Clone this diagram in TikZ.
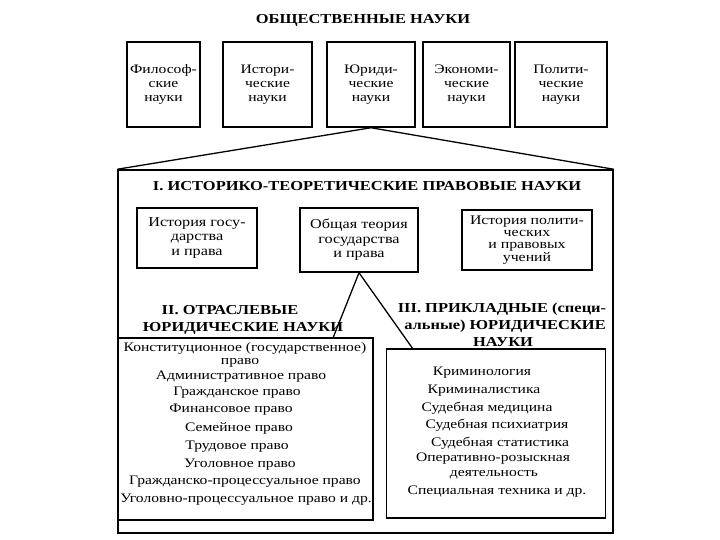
\documentclass[tikz,border=0pt]{standalone}
\usepackage{fontspec}
\setmainfont[FakeStretch=1.2]{Liberation Serif}
\begin{document}
\begin{tikzpicture}[x=1pt,y=-1pt,
  box/.style={draw, line width=1.5pt, inner sep=0pt, align=center},
  ln/.style={line width=1.3pt},
  hd/.style={font=\bfseries\fontsize{13.7}{17}\selectfont, align=center, inner sep=0pt},
  tbox/.style={box, font=\fontsize{13}{14}\selectfont, minimum height=85pt},
  mbox/.style={box, font=\fontsize{13.5}{14.5}\selectfont},
  it/.style={font=\fontsize{13}{15}\selectfont, inner sep=0pt}]
\useasboundingbox (0,0) rectangle (720,540);
% title
\node[hd] (title) at (363,20) {ОБЩЕСТВЕННЫЕ НАУКИ};
% top boxes
\node[tbox, minimum width=73pt] (f) at (163.5,84.5) {Философ-\\ские\\науки};
\node[tbox, minimum width=89pt] (h) at (267.5,84.5) {Истори-\\ческие\\науки};
\node[tbox, minimum width=88pt] (j) at (371,84.5) {Юриди-\\ческие\\науки};
\node[tbox, minimum width=87pt] (e) at (466.5,84.5) {Экономи-\\ческие\\науки};
\node[tbox, minimum width=92pt] (p) at (561,84.5) {Полити-\\ческие\\науки};
% big frame
\node[box, minimum width=495pt, minimum height=363pt] (frame) at (365.5,351.5) {};
\draw[ln] (j.south) -- (frame.north west);
\draw[ln] (j.south) -- (frame.north east);
% heading I
\node[hd] (h1) at (367,186) {I. ИСТОРИКО-ТЕОРЕТИЧЕСКИЕ ПРАВОВЫЕ НАУКИ};
% row 2
\node[mbox, minimum width=120pt, minimum height=60pt] (a) at (197,238) {История госу-\\дарства\\и права};
\node[mbox, minimum width=118pt, minimum height=64pt] (b) at (359,240) {Общая теория\\государства\\и права};
\node[mbox, minimum width=130pt, minimum height=60pt, font=\fontsize{13.2}{12.2}\selectfont] (c) at (527,240) {История полити-\\ческих\\и правовых\\учений};
% headings II, III
\node[hd] (h2a) at (230,310) {II. ОТРАСЛЕВЫЕ};
\node[hd] (h2b) at (243,328) {ЮРИДИЧЕСКИЕ НАУКИ};
\node[hd] (h3a) at (502,309) {III. ПРИКЛАДНЫЕ (специ-};
\node[hd] (h3b) at (505,326) {альные) ЮРИДИЧЕСКИЕ};
\node[hd] (h3c) at (503,342) {НАУКИ};
% lower boxes
\node[box, minimum width=255pt, minimum height=182pt] (L) at (245.5,429) {};
\node[box, minimum width=219pt, minimum height=169pt] (R) at (496,433.5) {};
\coordinate (tl) at (333,338);
\coordinate (tr) at (413,349);
\draw[ln] (b.south) -- (tl);
\draw[ln] (b.south) -- (tr);
% left items
\node[it] (l1) at (245,348) {Конституционное (государственное)};
\node[it] (l2) at (240,363) {право};
\node[it] (l3) at (241,377) {Административное право};
\node[it] (l4) at (237,393) {Гражданское право};
\node[it] (l5) at (231,410) {Финансовое право};
\node[it] (l6) at (239,428) {Семейное право};
\node[it] (l7) at (237,447) {Трудовое право};
\node[it] (l8) at (240,465) {Уголовное право};
\node[it] (l9) at (245,482) {Гражданско-процессуальное право};
\node[it] (l10) at (246,500) {Уголовно-процессуальное право и др.};
% right items
\node[it] (r1) at (482,373) {Криминология};
\node[it] (r2) at (484,391) {Криминалистика};
\node[it] (r3) at (487,408) {Судебная медицина};
\node[it] (r4) at (497,425) {Судебная психиатрия};
\node[it] (r5) at (500,443) {Судебная статистика};
\node[it] (r6) at (493,459) {Оперативно-розыскная};
\node[it] (r7) at (494,475) {деятельность};
\node[it] (r8) at (497,492) {Специальная техника и др.};
\end{tikzpicture}
\end{document}
